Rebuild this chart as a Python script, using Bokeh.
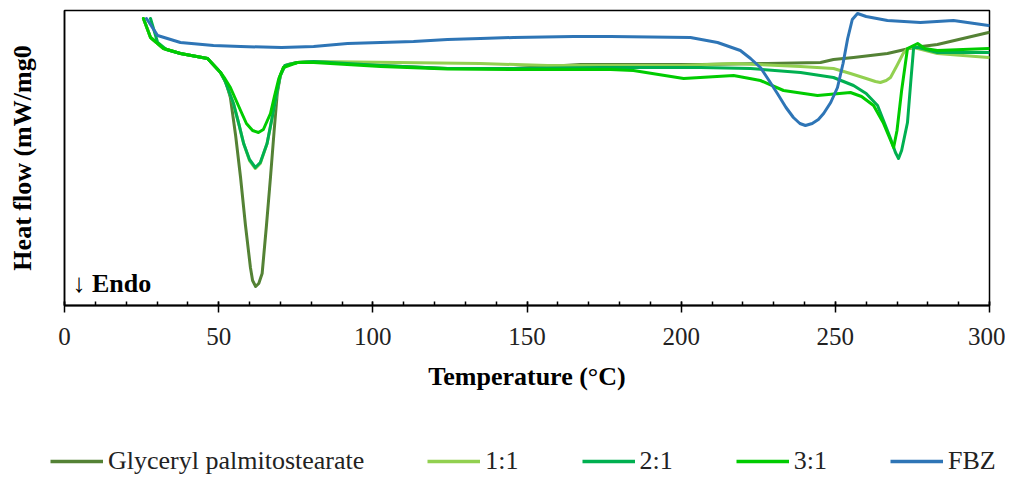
from bokeh.plotting import figure
from bokeh.models import Legend, LegendItem, Label, Range1d, FixedTicker
from bokeh.embed import file_html
from bokeh.resources import INLINE

# ---- data (heat flow in arbitrary units) ----
gps_T = [25.6, 27.9, 32.1, 37.6, 46.4, 50.6, 52.5, 53.8, 55.5, 57.1, 58.7, 60.3, 61.0, 62.0, 63.0,
         64.1, 65.5, 66.8, 68.0, 69.0, 70.0, 71.0, 72.5, 75.5,
         80.8, 102.5, 124.2, 145.6, 167.4, 206.3, 228.0, 245.2, 249.4, 255.9, 266.9, 275.4, 283.1, 299.7]
gps_v = [2.87, 2.68, 2.57, 2.52, 2.47, 2.33, 2.22, 2.08, 1.70, 1.28, 0.80, 0.38, 0.25, 0.19, 0.22,
         0.32, 0.80, 1.28, 1.75, 2.12, 2.30, 2.38, 2.41, 2.43,
         2.44, 2.40, 2.37, 2.37, 2.41, 2.41, 2.42, 2.43, 2.46, 2.48, 2.52, 2.58, 2.61, 2.73]

r11_T = [25.6, 27.9, 32.1, 37.6, 46.4, 50.6, 52.0, 54.8, 56.5, 58.1, 60.0, 61.9, 63.5, 65.7, 67.8,
         69.0, 70.0, 71.5, 75.5, 80.8,
         134.9, 156.6, 200.0, 217.0, 238.7, 249.4, 254.9, 260.0, 263.0, 264.6, 266.5, 267.9, 270.0,
         272.0, 273.4, 275.4, 283.1, 299.7]
r11_v = [2.87, 2.68, 2.57, 2.52, 2.47, 2.33, 2.25, 2.02, 1.82, 1.62, 1.45, 1.37, 1.42, 1.62, 1.95,
         2.15, 2.30, 2.40, 2.43, 2.44,
         2.42, 2.40, 2.40, 2.42, 2.39, 2.37, 2.32, 2.27, 2.24, 2.23, 2.25, 2.28, 2.40,
         2.52, 2.57, 2.58, 2.52, 2.48]

r21_T = [27.9, 30.2, 33.0, 37.6, 46.4, 50.6, 52.0, 54.8, 56.5, 58.1, 60.0, 61.9, 63.5, 65.7, 67.8,
         69.0, 70.0, 71.5, 75.5, 80.8,
         102.5, 124.2, 145.6, 173.8, 206.3, 222.5, 238.7, 249.4, 255.9, 260.0, 263.7, 266.0, 267.9,
         269.5, 270.5, 271.5, 273.4, 274.5, 275.4, 277.0, 283.1, 299.7]
r21_v = [2.87, 2.63, 2.56, 2.52, 2.47, 2.33, 2.25, 2.02, 1.82, 1.62, 1.46, 1.38, 1.43, 1.62, 1.95,
         2.15, 2.30, 2.40, 2.43, 2.44,
         2.40, 2.37, 2.37, 2.38, 2.38, 2.37, 2.33, 2.28, 2.20, 2.12, 2.00, 1.82, 1.67,
         1.53, 1.47, 1.55, 1.83, 2.25, 2.58, 2.58, 2.53, 2.53]

r31_T = [25.6, 27.9, 32.1, 37.6, 46.4, 50.6, 52.0, 53.8, 57.1, 59.0, 61.0, 62.9, 64.5, 66.8, 68.0,
         69.5, 71.0, 75.5,
         80.8, 102.5, 124.2, 145.6, 177.1, 184.5, 200.8, 217.0, 225.7, 233.2, 244.2, 254.9, 258.5,
         262.4, 265.5, 268.9, 270.0, 271.5, 273.4, 276.7, 279.0, 283.1, 299.7]
r31_v = [2.87, 2.68, 2.57, 2.52, 2.47, 2.33, 2.27, 2.18, 1.95, 1.82, 1.75, 1.73, 1.76, 1.92, 2.08,
         2.27, 2.38, 2.43,
         2.43, 2.39, 2.365, 2.36, 2.36, 2.35, 2.27, 2.30, 2.25, 2.15, 2.10, 2.13, 2.09,
         2.00, 1.83, 1.58, 1.75, 2.15, 2.57, 2.62, 2.57, 2.55, 2.57]

fbz_T = [26.6, 30.2, 37.6, 48.3, 57.1, 70.4, 80.8, 91.8, 102.5, 113.2, 124.2, 134.9, 145.6, 165.1,
         177.1, 203.0, 211.8, 219.2, 222.5, 225.7, 228.5, 231.2, 234.0, 236.4, 238.5, 240.3, 242.5,
         244.5, 246.2, 248.5, 250.7, 252.5, 254.0, 255.5, 257.2, 260.0, 266.9, 277.6, 288.3, 299.7]
fbz_v = [2.87, 2.70, 2.63, 2.60, 2.59, 2.58, 2.59, 2.62, 2.63, 2.64, 2.66, 2.67, 2.68, 2.69,
         2.69, 2.68, 2.63, 2.55, 2.47, 2.38, 2.25, 2.12, 1.98, 1.88, 1.82, 1.80, 1.82,
         1.86, 1.92, 2.03, 2.18, 2.42, 2.67, 2.86, 2.92, 2.89, 2.85, 2.83, 2.85, 2.80]

series_names = ["Glyceryl palmitostearate", "1:1", "2:1", "3:1", "FBZ"]
series_colors = ["#548235", "#92D050", "#00B050", "#00CC00", "#2E75B6"]
x_ticks = [0, 50, 100, 150, 200, 250, 300]
x_label = "Temperature (°C)"
y_label = "Heat flow (mW/mg0"
FONT = "Liberation Serif"
LW = 3

p = figure(width=1005, height=430, output_backend="svg", toolbar_location=None,
           x_range=Range1d(0, 300), y_range=Range1d(0, 2.95),
           min_border_left=64, min_border_right=16, min_border_top=10, min_border_bottom=125)
p.background_fill_color = None
p.border_fill_color = "white"
p.outline_line_color = "black"
p.outline_line_width = 1.5
p.xgrid.visible = False
p.ygrid.visible = False

data = [(gps_T, gps_v), (r11_T, r11_v), (r21_T, r21_v), (r31_T, r31_v), (fbz_T, fbz_v)]
for (xs, ys), c in zip(data, series_colors):
    p.line(xs, ys, line_color=c, line_width=LW, line_join="round", line_cap="round")

# x axis
xa = p.xaxis[0]
xa.ticker = FixedTicker(ticks=x_ticks, minor_ticks=list(range(0, 301, 10)))
xa.axis_line_color = "black"
xa.axis_line_width = 2
xa.major_tick_in = 4
xa.major_tick_out = 7
xa.minor_tick_in = 4
xa.minor_tick_out = 0
xa.major_tick_line_color = "black"
xa.minor_tick_line_color = "black"
xa.major_tick_line_width = 1.5
xa.minor_tick_line_width = 1.5
xa.major_label_text_font = FONT
xa.major_label_text_font_size = "25px"
xa.major_label_text_color = "#222222"
xa.major_label_standoff = 15
xa.axis_label = x_label
xa.axis_label_text_font = FONT
xa.axis_label_text_font_size = "26px"
xa.axis_label_text_font_style = "bold"
xa.axis_label_text_color = "black"
xa.axis_label_standoff = 14

# y axis (no ticks)
ya = p.yaxis[0]
ya.ticker = FixedTicker(ticks=[])
ya.axis_line_color = "black"
ya.axis_line_width = 1.5
ya.major_tick_line_color = None
ya.minor_tick_line_color = None
ya.axis_label = y_label
ya.axis_label_text_font = FONT
ya.axis_label_text_font_size = "26px"
ya.axis_label_text_font_style = "bold"
ya.axis_label_text_color = "black"
ya.axis_label_standoff = 28

p.add_layout(Label(x=8, y=22, x_units="screen", y_units="screen", text="↓ Endo",
                   text_font=FONT, text_font_size="26px", text_font_style="bold",
                   text_baseline="middle", text_color="black"))

# legend strip below the chart (separate root so its frame starts at the left edge)
lg = figure(width=1005, height=48, output_backend="svg", toolbar_location=None,
            x_range=Range1d(0, 1), y_range=Range1d(0, 1),
            x_axis_type=None, y_axis_type=None,
            min_border_left=0, min_border_right=0, min_border_top=0, min_border_bottom=0)
lg.outline_line_color = None
lg.xgrid.visible = False
lg.ygrid.visible = False
items = []
for n, c in zip(series_names, series_colors):
    # key glyph only: its points lie outside the visible range
    r = lg.line([-2, -1], [-2, -2], line_color=c, line_width=LW + 0.5)
    items.append(LegendItem(label=n, renderers=[r]))
legend = Legend(items=items, orientation="horizontal", location=(50, 2),
                label_text_font=FONT, label_text_font_size="26px", label_text_color="#222222",
                glyph_width=53, glyph_height=26, label_standoff=5, spacing=63,
                padding=0, margin=0, border_line_color=None, background_fill_alpha=0)
lg.add_layout(legend, "center")

open("out.html", "w").write(file_html([p, lg], INLINE))
